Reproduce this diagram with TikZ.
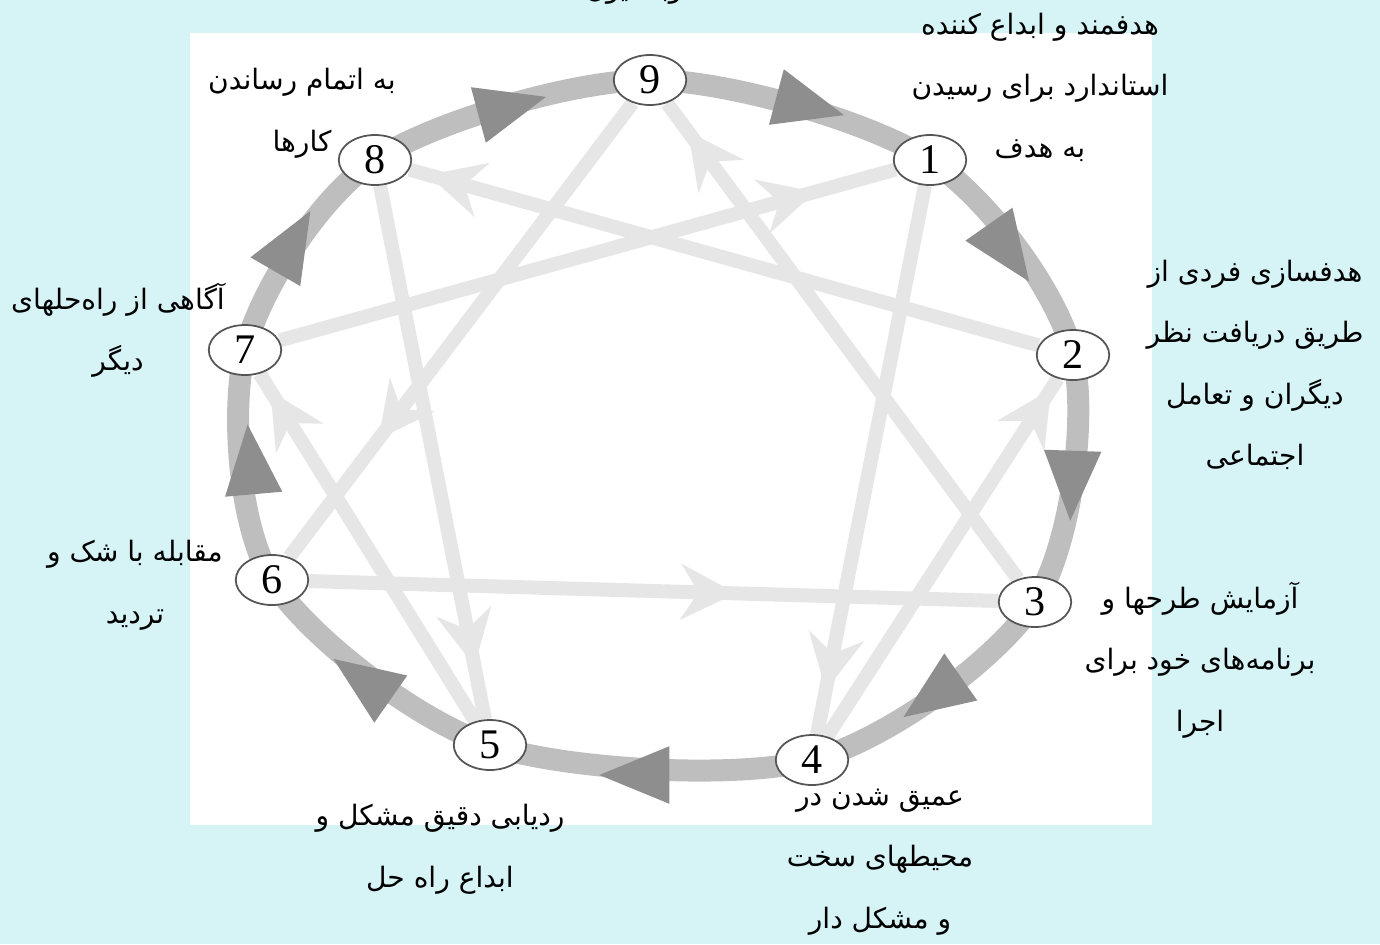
\documentclass[tikz,border=0pt]{standalone}
\usepackage{fontspec}
\setmainfont{Liberation Serif}
\newfontfamily\farsi[Script=Arabic]{DejaVu Sans}
\TeXXeTstate=1
\usetikzlibrary{shapes.geometric,arrows.meta,decorations.markings,backgrounds}
\definecolor{sky}{RGB}{214,244,246}
\definecolor{ringgray}{RGB}{190,190,190}
\definecolor{tipgray}{RGB}{142,142,142}
\definecolor{linegray}{RGB}{230,230,230}
\definecolor{rimgray}{RGB}{85,85,85}
\newcommand{\fa}[1]{\beginR #1\endR}

\begin{document}
\begin{tikzpicture}[x=0.02cm, y=-0.02cm,
        num/.style={ellipse, draw=rimgray, line width=1pt, fill=white, minimum width=1.45cm, minimum height=1cm, inner sep=0pt, font=\fontsize{24}{24}\selectfont},
        note/.style={align=center, inner sep=0pt, font=\farsi\fontsize{16}{35}\selectfont},
        ringtip/.style={isosceles triangle, isosceles triangle stretches, fill=tipgray, minimum width=1.15cm, minimum height=1.4cm, inner sep=0pt},
        inner/.style={line width=0.28cm, draw=linegray},
        ring/.style={line width=0.44cm, draw=ringgray},
        tipat/.style={postaction={decorate}, decoration={markings, mark=at position #1 with {\arrow{Stealth[length=1.1cm,width=1.1cm,inset=0.35cm]}}}}
    ]
        \useasboundingbox (0,0) rectangle (1380,944);

        % numbered points round the ring
        \node[num] (n9) at (650,80) {9};
        \node[num] (n1) at (930,160) {1};
        \node[num] (n2) at (1073,355) {2};
        \node[num] (n3) at (1035,602) {3};
        \node[num] (n4) at (812,760) {4};
        \node[num] (n5) at (490,745) {5};
        \node[num] (n6) at (272,580) {6};
        \node[num] (n7) at (245,350) {7};
        \node[num] (n8) at (375,160) {8};

        \begin{scope}[on background layer]
            \fill[sky] (0,0) rectangle (1380,944);
            \fill[white] (190,33) rectangle (1152,825);

            % inner lines
            \draw[inner, tipat=0.87] (n7) -- (n1);
            \draw[inner, tipat=0.92] (n1) -- (n4);
            \draw[inner, tipat=0.97] (n4) -- (n2);
            \draw[inner, tipat=0.97] (n2) -- (n8);
            \draw[inner, tipat=0.90] (n8) -- (n5);
            \draw[inner, tipat=0.95] (n5) -- (n7);
            \draw[inner, tipat=0.74] (n9) -- (n6);
            \draw[inner, tipat=0.62] (n6) -- (n3);
            \draw[inner, tipat=0.94] (n3) -- (n9);

            % outer ring
            \draw[ring] plot[smooth cycle] coordinates {(n9.center) (n1.center) (n2.center) (n3.center) (n4.center) (n5.center) (n6.center) (n7.center) (n8.center)};

            \node[ringtip, rotate=-15] (t91) at (795,102) {};
            \node[ringtip, rotate=-55] (t12) at (1000,240) {};
            \node[ringtip, rotate=-92] (t23) at (1072,470) {};
            \node[ringtip, rotate=-145] (t34) at (945,688) {};
            \node[ringtip, rotate=180] (t45) at (650,775) {};
            \node[ringtip, rotate=145] (t56) at (375,688) {};
            \node[ringtip, rotate=95] (t67) at (252,475) {};
            \node[ringtip, rotate=60] (t78) at (285,255) {};
            \node[ringtip, rotate=15] (t89) at (497,110) {};
        \end{scope}

        % labels
        \node[note] (l9) at (650,-10) {\fa{انکوباسیون}};
        \node[note] (l1) at (1040,87) {\fa{هدفمند و ابداع کننده}\\\fa{استاندارد برای رسیدن}\\\fa{به هدف}};
        \node[note] (l2) at (1255,365) {\fa{هدفسازی فردی از}\\\fa{طریق دریافت نظر}\\\fa{دیگران و تعامل}\\\fa{اجتماعی}};
        \node[note] (l3) at (1200,660) {\fa{آزمایش طرحها و}\\\fa{برنامه‌های خود برای}\\\fa{اجرا}};
        \node[note] (l4) at (880,862) {\fa{عمیق شدن در}\\\fa{محیطهای سخت}\\\fa{و مشکل دار}};
        \node[note] (l5) at (440,849) {\fa{ردیابی دقیق مشکل و}\\\fa{ابداع راه حل}};
        \node[note] (l6) at (135,585) {\fa{مقابله با شک و}\\\fa{تردید}};
        \node[note] (l7) at (118,330) {\fa{آگاهی از راه‌حلهای}\\\fa{دیگر}};
        \node[note] (l8) at (302,113) {\fa{به اتمام رساندن}\\\fa{کارها}};
    \end{tikzpicture}
\end{document}
